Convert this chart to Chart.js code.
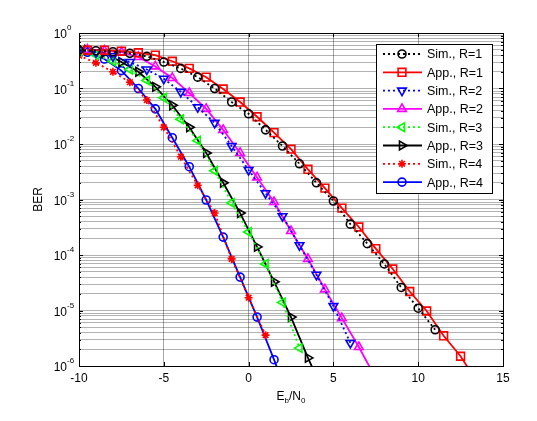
<!DOCTYPE html>
<html>
<head>
<meta charset="utf-8">
<title>BER vs Eb/N0</title>
<script src="https://cdn.jsdelivr.net/npm/chart.js@4.4.1/dist/chart.umd.min.js"></script>
<style>
  body { margin: 0; background: #fff; }
  #wrap { width: 537px; height: 421px; }
</style>
</head>
<body>
<div id="wrap"><canvas id="berChart" width="537" height="421"></canvas></div>
<script>
// Eb/N0 grids (dB)
const ebnoSim = [-10, -9, -8, -7, -6, -5, -4, -3, -2, -1, 0, 1, 2, 3, 4, 5, 6, 7, 8, 9, 10, 11];
const ebnoApp = [-9.5, -8.5, -7.5, -6.5, -5.5, -4.5, -3.5, -2.5, -1.5, -0.5, 0.5, 1.5, 2.5, 3.5, 4.5, 5.5, 6.5, 7.5, 8.5, 9.5, 10.5, 11.5, 12.5, 13.5];

// BER values
const simR1 = [0.49, 0.48, 0.46, 0.43, 0.38, 0.30, 0.23, 0.16, 0.10, 0.057, 0.035, 0.018, 0.0092, 0.0044, 0.0020, 9.4e-4, 3.6e-4, 1.6e-4, 6.9e-5, 2.6e-5, 1.1e-5, 4.5e-6];
const appR1 = [0.49, 0.49, 0.47, 0.44, 0.40, 0.31, 0.23, 0.16, 0.098, 0.057, 0.031, 0.016, 0.0081, 0.0035, 0.0016, 7.0e-4, 3.2e-4, 1.3e-4, 5.6e-5, 2.2e-5, 9.8e-6, 3.5e-6, 1.5e-6, 5e-7];
const simR2 = [0.49, 0.45, 0.38, 0.30, 0.22, 0.15, 0.087, 0.046, 0.024, 0.0092, 0.0034, 0.0013, 5.0e-4, 1.5e-4, 4.4e-5, 1.2e-5, 2.6e-6];
const appR2 = [0.50, 0.48, 0.45, 0.37, 0.25, 0.155, 0.083, 0.043, 0.018, 0.0069, 0.0025, 9.0e-4, 2.7e-4, 8.5e-5, 2.4e-5, 7.3e-6, 2.2e-6, 6e-7];
const simR3 = [0.47, 0.40, 0.31, 0.22, 0.14, 0.068, 0.028, 0.0115, 0.0033, 8.7e-4, 2.6e-4, 6.9e-5, 1.4e-5, 2.1e-6];
const appR3 = [0.50, 0.44, 0.30, 0.20, 0.107, 0.050, 0.020, 0.0069, 0.0020, 5.7e-4, 1.4e-4, 3.3e-5, 7.6e-6, 1.4e-6, 3e-7];
const simR4 = [0.39, 0.29, 0.20, 0.13, 0.062, 0.020, 0.0059, 0.0018, 5.7e-4, 8.5e-5, 1.7e-5, 3.6e-6];
const appR4 = [0.45, 0.34, 0.21, 0.10, 0.043, 0.013, 0.0039, 9.8e-4, 2.1e-4, 4.0e-5, 7.6e-6, 1.3e-6, 2e-7];

const xTicks = [-10, -5, 0, 5, 10, 15];
const yDecades = [0, -1, -2, -3, -4, -5, -6];

function pts(xs, ys) {
    return ys.map((v, i) => ({ x: xs[i], y: v }));
}

function series(label, xs, ys, color, style, rotation, radius, dotted) {
    return {
        label: label,
        data: pts(xs, ys),
        borderColor: color,
        backgroundColor: color,
        borderWidth: 1.8,
        borderDash: dotted ? [2, 3] : [],
        pointStyle: style,
        rotation: rotation,
        pointRadius: radius,
        pointBorderColor: color,
        pointBackgroundColor: 'rgba(0,0,0,0)',
        pointBorderWidth: 1.6,
        tension: 0,
        dotted: dotted
    };
}

const datasets = [
    series('Sim., R=1', ebnoSim, simR1, '#000000', 'circle', 0, 4, true),
    series('App., R=1', ebnoApp, appR1, '#ff0000', 'rect', 0, 5.5, false),
    series('Sim., R=2', ebnoSim, simR2, '#0000ff', 'triangle', 180, 5, true),
    series('App., R=2', ebnoApp, appR2, '#ff00ff', 'triangle', 0, 5, false),
    series('Sim., R=3', ebnoSim, simR3, '#00ff00', 'triangle', 270, 5, true),
    series('App., R=3', ebnoApp, appR3, '#000000', 'triangle', 90, 5, false),
    series('Sim., R=4', ebnoSim, simR4, '#ff0000', 'star', 0, 4, true),
    series('App., R=4', ebnoApp, appR4, '#0000ff', 'circle', 0, 4, false)
];

// axes labels, inward ticks, box and legend drawn like the original figure
const decorPlugin = {
    id: 'decor',
    afterDraw(chart) {
        const ctx = chart.ctx;
        const a = chart.chartArea;
        const xs = chart.scales.x;
        const ys = chart.scales.y;
        ctx.save();

        // box
        ctx.strokeStyle = '#000';
        ctx.lineWidth = 1;
        ctx.setLineDash([]);
        ctx.strokeRect(a.left + 0.5, a.top + 0.5, a.right - a.left, a.bottom - a.top);

        // x ticks
        ctx.beginPath();
        xTicks.forEach(t => {
            const px = Math.round(xs.getPixelForValue(t)) + 0.5;
            ctx.moveTo(px, a.bottom); ctx.lineTo(px, a.bottom - 4);
            ctx.moveTo(px, a.top); ctx.lineTo(px, a.top + 4);
        });
        // y ticks (major + minor)
        yDecades.forEach(e => {
            for (let m = 1; m <= 9; m++) {
                const v = m * Math.pow(10, e);
                if (v > 1 || v < 1e-6) continue;
                const py = Math.round(ys.getPixelForValue(v)) + 0.5;
                const len = m === 1 ? 4 : 2;
                ctx.moveTo(a.left, py); ctx.lineTo(a.left + len, py);
                ctx.moveTo(a.right, py); ctx.lineTo(a.right - len, py);
            }
        });
        ctx.stroke();

        // tick labels
        ctx.fillStyle = '#000';
        ctx.font = '12px "Liberation Sans", Arial, sans-serif';
        ctx.textAlign = 'center';
        ctx.textBaseline = 'top';
        xTicks.forEach(t => {
            ctx.fillText(String(t), xs.getPixelForValue(t), a.bottom + 7);
        });
        yDecades.forEach(e => {
            const py = ys.getPixelForValue(Math.pow(10, e));
            ctx.font = '12px "Liberation Sans", Arial, sans-serif';
            ctx.textAlign = 'right';
            ctx.textBaseline = 'middle';
            ctx.fillText('10', a.left - 12, py + 2);
            ctx.font = '8px "Liberation Sans", Arial, sans-serif';
            ctx.textAlign = 'left';
            ctx.fillText(String(e), a.left - 12, py - 5);
        });

        // axis titles
        ctx.font = '12px "Liberation Sans", Arial, sans-serif';
        ctx.textBaseline = 'alphabetic';
        const cx = (a.left + a.right) / 2;
        const ty = a.bottom + 34;
        const parts = [['E', 12, 0], ['b', 8, 3], ['/N', 12, 0], ['0', 8, 3]];
        let w = 0;
        parts.forEach(p => { ctx.font = p[1] + 'px "Liberation Sans", Arial, sans-serif'; w += ctx.measureText(p[0]).width; });
        let px = cx - w / 2;
        ctx.textAlign = 'left';
        parts.forEach(p => {
            ctx.font = p[1] + 'px "Liberation Sans", Arial, sans-serif';
            ctx.fillText(p[0], px, ty + p[2]);
            px += ctx.measureText(p[0]).width;
        });
        ctx.save();
        ctx.translate(a.left - 40, (a.top + a.bottom) / 2);
        ctx.rotate(-Math.PI / 2);
        ctx.font = '12px "Liberation Sans", Arial, sans-serif';
        ctx.textAlign = 'center';
        ctx.textBaseline = 'middle';
        ctx.fillText('BER', 0, 0);
        ctx.restore();

        // legend box
        const lx = 376, ly = 44, lw = 116, lh = 149;
        ctx.fillStyle = '#fff';
        ctx.fillRect(lx, ly, lw, lh);
        ctx.strokeStyle = '#000';
        ctx.lineWidth = 1;
        ctx.strokeRect(lx + 0.5, ly + 0.5, lw, lh);
        chart.data.datasets.forEach((ds, i) => {
            const ry = ly + 10 + i * 18.3;
            ctx.strokeStyle = ds.borderColor;
            ctx.lineWidth = ds.borderWidth;
            ctx.setLineDash(ds.dotted ? [2, 3] : []);
            ctx.beginPath();
            ctx.moveTo(lx + 7, ry); ctx.lineTo(lx + 46, ry);
            ctx.stroke();
            ctx.setLineDash([]);
            ctx.lineWidth = ds.pointBorderWidth;
            ctx.fillStyle = 'rgba(0,0,0,0)';
            Chart.helpers.drawPoint(ctx, {
                pointStyle: ds.pointStyle,
                rotation: ds.rotation,
                radius: ds.pointRadius,
                borderWidth: ds.pointBorderWidth
            }, lx + 26, ry);
            ctx.fillStyle = '#000';
            ctx.font = '12.5px "Liberation Sans", Arial, sans-serif';
            ctx.textAlign = 'left';
            ctx.textBaseline = 'middle';
            ctx.fillText(ds.label, lx + 51, ry + 1);
        });
        ctx.restore();
    }
};

const ctx = document.getElementById('berChart').getContext('2d');
const berChart = new Chart(ctx, {
    type: 'line',
    data: { datasets: datasets },
    options: {
        responsive: false,
        animation: false,
        layout: { padding: { left: 79, top: 33, right: 34, bottom: 55 } },
        plugins: { legend: { display: false }, tooltip: { enabled: false } },
        scales: {
            x: {
                type: 'linear',
                min: -10,
                max: 15,
                afterBuildTicks: scale => { scale.ticks = xTicks.map(v => ({ value: v })); },
                ticks: { display: false },
                grid: { color: 'rgba(0,0,0,0.35)', drawTicks: false },
                border: { display: false }
            },
            y: {
                type: 'logarithmic',
                min: 1e-6,
                max: 1,
                afterBuildTicks: scale => {
                    const t = [];
                    yDecades.forEach(e => {
                        for (let m = 1; m <= 9; m++) {
                            const v = m * Math.pow(10, e);
                            if (v <= 1 && v >= 1e-6) t.push({ value: v });
                        }
                    });
                    scale.ticks = t;
                },
                ticks: { display: false },
                grid: { color: 'rgba(0,0,0,0.3)', drawTicks: false },
                border: { display: false }
            }
        }
    },
    plugins: [decorPlugin]
});
</script>
</body>
</html>
